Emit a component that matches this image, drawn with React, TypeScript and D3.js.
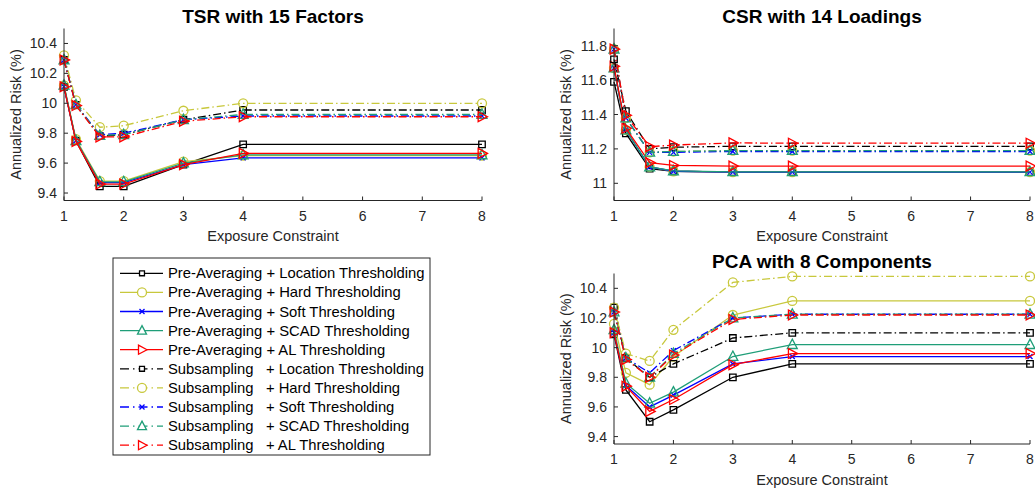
import React from "react";
import * as d3 from "d3";

const X = [1, 1.2, 1.6, 2, 3, 4, 8];
const xTicks = [1, 2, 3, 4, 5, 6, 7, 8];

const seriesLabels = [
  "Pre-Averaging + Location Thresholding",
  "Pre-Averaging + Hard Thresholding",
  "Pre-Averaging + Soft Thresholding",
  "Pre-Averaging + SCAD Thresholding",
  "Pre-Averaging + AL Thresholding",
  "Subsampling   + Location Thresholding",
  "Subsampling   + Hard Thresholding",
  "Subsampling   + Soft Thresholding",
  "Subsampling   + SCAD Thresholding",
  "Subsampling   + AL Thresholding",
];

// TSR with 15 Factors
const tsrPaLocation = [10.11, 9.75, 9.445, 9.445, 9.59, 9.725, 9.725];
const tsrPaHard = [10.12, 9.76, 9.48, 9.48, 9.61, 9.65, 9.65];
const tsrPaSoft = [10.11, 9.75, 9.47, 9.47, 9.59, 9.635, 9.635];
const tsrPaScad = [10.12, 9.75, 9.475, 9.475, 9.6, 9.655, 9.655];
const tsrPaAl = [10.11, 9.745, 9.46, 9.46, 9.59, 9.665, 9.665];
const tsrSsLocation = [10.29, 9.99, 9.78, 9.79, 9.89, 9.955, 9.955];
const tsrSsHard = [10.32, 10.02, 9.84, 9.85, 9.95, 10.0, 10.0];
const tsrSsSoft = [10.29, 9.99, 9.79, 9.8, 9.89, 9.915, 9.915];
const tsrSsScad = [10.29, 9.99, 9.785, 9.79, 9.89, 9.925, 9.925];
const tsrSsAl = [10.29, 9.985, 9.775, 9.775, 9.88, 9.91, 9.91];

// CSR with 14 Loadings
const csrPaLocation = [11.59, 11.29, 11.085, 11.07, 11.065, 11.065, 11.065];
const csrPaHard = [11.67, 11.31, 11.095, 11.07, 11.065, 11.065, 11.065];
const csrPaSoft = [11.67, 11.31, 11.095, 11.07, 11.065, 11.065, 11.065];
const csrPaScad = [11.67, 11.31, 11.095, 11.072, 11.067, 11.067, 11.067];
const csrPaAl = [11.68, 11.32, 11.12, 11.104, 11.1, 11.1, 11.1];
const csrSsLocation = [11.72, 11.42, 11.2, 11.21, 11.215, 11.215, 11.215];
const csrSsHard = [11.78, 11.38, 11.18, 11.185, 11.19, 11.19, 11.19];
const csrSsSoft = [11.78, 11.38, 11.18, 11.18, 11.185, 11.185, 11.185];
const csrSsScad = [11.78, 11.38, 11.18, 11.185, 11.19, 11.19, 11.19];
const csrSsAl = [11.78, 11.395, 11.213, 11.222, 11.235, 11.233, 11.233];

// PCA with 8 Components
const pcaPaLocation = [10.09, 9.715, 9.5, 9.58, 9.8, 9.89, 9.89];
const pcaPaHard = [10.16, 9.83, 9.75, 9.94, 10.22, 10.315, 10.315];
const pcaPaSoft = [10.1, 9.745, 9.6, 9.68, 9.89, 9.94, 9.94];
const pcaPaScad = [10.12, 9.76, 9.625, 9.7, 9.94, 10.02, 10.02];
const pcaPaAl = [10.1, 9.74, 9.57, 9.65, 9.885, 9.96, 9.96];
const pcaSsLocation = [10.27, 9.93, 9.8, 9.89, 10.065, 10.1, 10.1];
const pcaSsHard = [10.27, 9.96, 9.91, 10.12, 10.44, 10.48, 10.48];
const pcaSsSoft = [10.24, 9.93, 9.83, 9.98, 10.2, 10.225, 10.225];
const pcaSsScad = [10.24, 9.93, 9.8, 9.96, 10.2, 10.225, 10.225];
const pcaSsAl = [10.24, 9.92, 9.8, 9.95, 10.19, 10.22, 10.22];

const tsrYTicks = [9.4, 9.6, 9.8, 10, 10.2, 10.4];
const csrYTicks = [11, 11.2, 11.4, 11.6, 11.8];
const pcaYTicks = [9.4, 9.6, 9.8, 10, 10.2, 10.4];

const COLORS = ["#000000", "#c8c83c", "#0000ff", "#1f9e78", "#ff0000"];
const MARKERS = ["square", "circle", "x", "triup", "triright"];
const FONT = "'Liberation Sans', Arial, Helvetica, sans-serif";
const AXIS = "#262626";

function markerPath(type: string, s: number): string {
  switch (type) {
    case "square":
      return `M${-s * 0.65},${-s * 0.65}H${s * 0.65}V${s * 0.65}H${-s * 0.65}Z`;
    case "circle":
      return `M${s * 0.9},0A${s * 0.9},${s * 0.9} 0 1 1 ${-s * 0.9},0A${s * 0.9},${s * 0.9} 0 1 1 ${s * 0.9},0Z`;
    case "x":
      return `M${-s * 0.5},${-s * 0.5}L${s * 0.5},${s * 0.5}M${-s * 0.5},${s * 0.5}L${s * 0.5},${-s * 0.5}`;
    case "triup":
      return `M0,${-s}L${s * 0.9},${s * 0.7}L${-s * 0.9},${s * 0.7}Z`;
    case "triright":
    default:
      return `M${s},0L${-s * 0.7},${-s * 0.9}L${-s * 0.7},${s * 0.9}Z`;
  }
}

const DASH = "8,3,1.5,3";

type Panel = {
  title: string;
  x0: number;
  x1: number;
  yTop: number;
  yBot: number;
  yDomain: [number, number];
  yTicks: number[];
  series: number[][];
};

const panels: Panel[] = [
  {
    title: "TSR with 15 Factors",
    x0: 64,
    x1: 482,
    yTop: 28.5,
    yBot: 200.5,
    yDomain: [9.35, 10.5],
    yTicks: tsrYTicks,
    series: [tsrPaLocation, tsrPaHard, tsrPaSoft, tsrPaScad, tsrPaAl, tsrSsLocation, tsrSsHard, tsrSsSoft, tsrSsScad, tsrSsAl],
  },
  {
    title: "CSR with 14 Loadings",
    x0: 614,
    x1: 1030,
    yTop: 28.5,
    yBot: 200.5,
    yDomain: [10.9, 11.9],
    yTicks: csrYTicks,
    series: [csrPaLocation, csrPaHard, csrPaSoft, csrPaScad, csrPaAl, csrSsLocation, csrSsHard, csrSsSoft, csrSsScad, csrSsAl],
  },
  {
    title: "PCA with 8 Components",
    x0: 614,
    x1: 1030,
    yTop: 273.5,
    yBot: 444,
    yDomain: [9.35, 10.5],
    yTicks: pcaYTicks,
    series: [pcaPaLocation, pcaPaHard, pcaPaSoft, pcaPaScad, pcaPaAl, pcaSsLocation, pcaSsHard, pcaSsSoft, pcaSsScad, pcaSsAl],
  },
];

function fmt(v: number) {
  return String(Math.round(v * 10) / 10);
}

function PanelView({ p }: { p: Panel }) {
  const xs = d3.scaleLinear().domain([1, 8]).range([p.x0, p.x1]);
  const ys = d3.scaleLinear().domain(p.yDomain).range([p.yBot, p.yTop]);
  const line = d3
    .line<number>()
    .x((_, i) => xs(X[i]))
    .y((d) => ys(d));
  const cx = (p.x0 + p.x1) / 2;
  const cy = (p.yTop + p.yBot) / 2;
  return (
    <g>
      {p.series.map((vals, si) => {
        const k = si % 5;
        const dashed = si >= 5;
        const color = COLORS[k];
        const msize = MARKERS[k] === "triup" || MARKERS[k] === "triright" ? 5.5 : 5;
        return (
          <g key={si}>
            <path d={line(vals) || ""} fill="none" stroke={color} strokeWidth={1.3} strokeDasharray={dashed ? DASH : undefined} />
            {vals.map((v, i) => (
              <path
                key={i}
                transform={`translate(${xs(X[i])},${ys(v)})`}
                d={markerPath(MARKERS[k], msize)}
                fill="none"
                stroke={color}
                strokeWidth={1.3}
              />
            ))}
          </g>
        );
      })}
      <line x1={p.x0} x2={p.x1} y1={p.yBot} y2={p.yBot} stroke={AXIS} strokeWidth={1} />
      <line x1={p.x0} x2={p.x0} y1={p.yTop} y2={p.yBot} stroke={AXIS} strokeWidth={1} />
      {xTicks.map((t) => (
        <g key={t}>
          <line x1={xs(t)} x2={xs(t)} y1={p.yBot} y2={p.yBot - 4} stroke={AXIS} />
          <text x={xs(t)} y={p.yBot + 20} textAnchor="middle" fontSize={14} fill={AXIS} fontFamily={FONT}>
            {t}
          </text>
        </g>
      ))}
      {p.yTicks.map((t) => (
        <g key={t}>
          <line x1={p.x0} x2={p.x0 + 4} y1={ys(t)} y2={ys(t)} stroke={AXIS} />
          <text x={p.x0 - 7} y={ys(t) + 5} textAnchor="end" fontSize={14} fill={AXIS} fontFamily={FONT}>
            {fmt(t)}
          </text>
        </g>
      ))}
      <text x={cx} y={p.yBot + 40.5} textAnchor="middle" fontSize={14.5} fill={AXIS} fontFamily={FONT}>
        Exposure Constraint
      </text>
      <text
        transform={`translate(${p.x0 - 43},${cy}) rotate(-90)`}
        textAnchor="middle"
        fontSize={14.5}
        fill={AXIS}
        fontFamily={FONT}
      >
        Annualized Risk (%)
      </text>
      <text x={cx} y={p.yTop - 6} textAnchor="middle" fontSize={19} fontWeight="bold" fill="#000" fontFamily={FONT}>
        {p.title}
      </text>
    </g>
  );
}

function Legend() {
  const lx = 113;
  const ly = 258;
  const w = 317;
  const h = 197;
  const step = 19.1;
  const firstY = 273.3;
  return (
    <g>
      <rect x={lx} y={ly} width={w} height={h} fill="#fff" stroke={AXIS} strokeWidth={1} />
      {seriesLabels.map((lab, i) => {
        const k = i % 5;
        const dashed = i >= 5;
        const y = firstY + i * step;
        const color = COLORS[k];
        return (
          <g key={i}>
            <line x1={120} x2={163} y1={y} y2={y} stroke={color} strokeWidth={1.3} strokeDasharray={dashed ? "9,4,1.5,4" : undefined} />
            <path
              transform={`translate(${142},${y})`}
              d={markerPath(MARKERS[k], MARKERS[k] === "square" ? 3.8 : 5)}
              fill="#fff"
              stroke={color}
              strokeWidth={1.3}
            />
            <text x={168} y={y + 5} fontSize={14.8} fill="#000" fontFamily={FONT} style={{ whiteSpace: "pre" }}>
              {lab}
            </text>
          </g>
        );
      })}
    </g>
  );
}

export default function App() {
  return (
    <svg width={1035} height={489} style={{ position: "absolute", left: 0, top: 0, background: "#fff" }}>
      <rect width={1035} height={489} fill="#fff" />
      {panels.map((p, i) => (
        <PanelView key={i} p={p} />
      ))}
      <Legend />
    </svg>
  );
}
